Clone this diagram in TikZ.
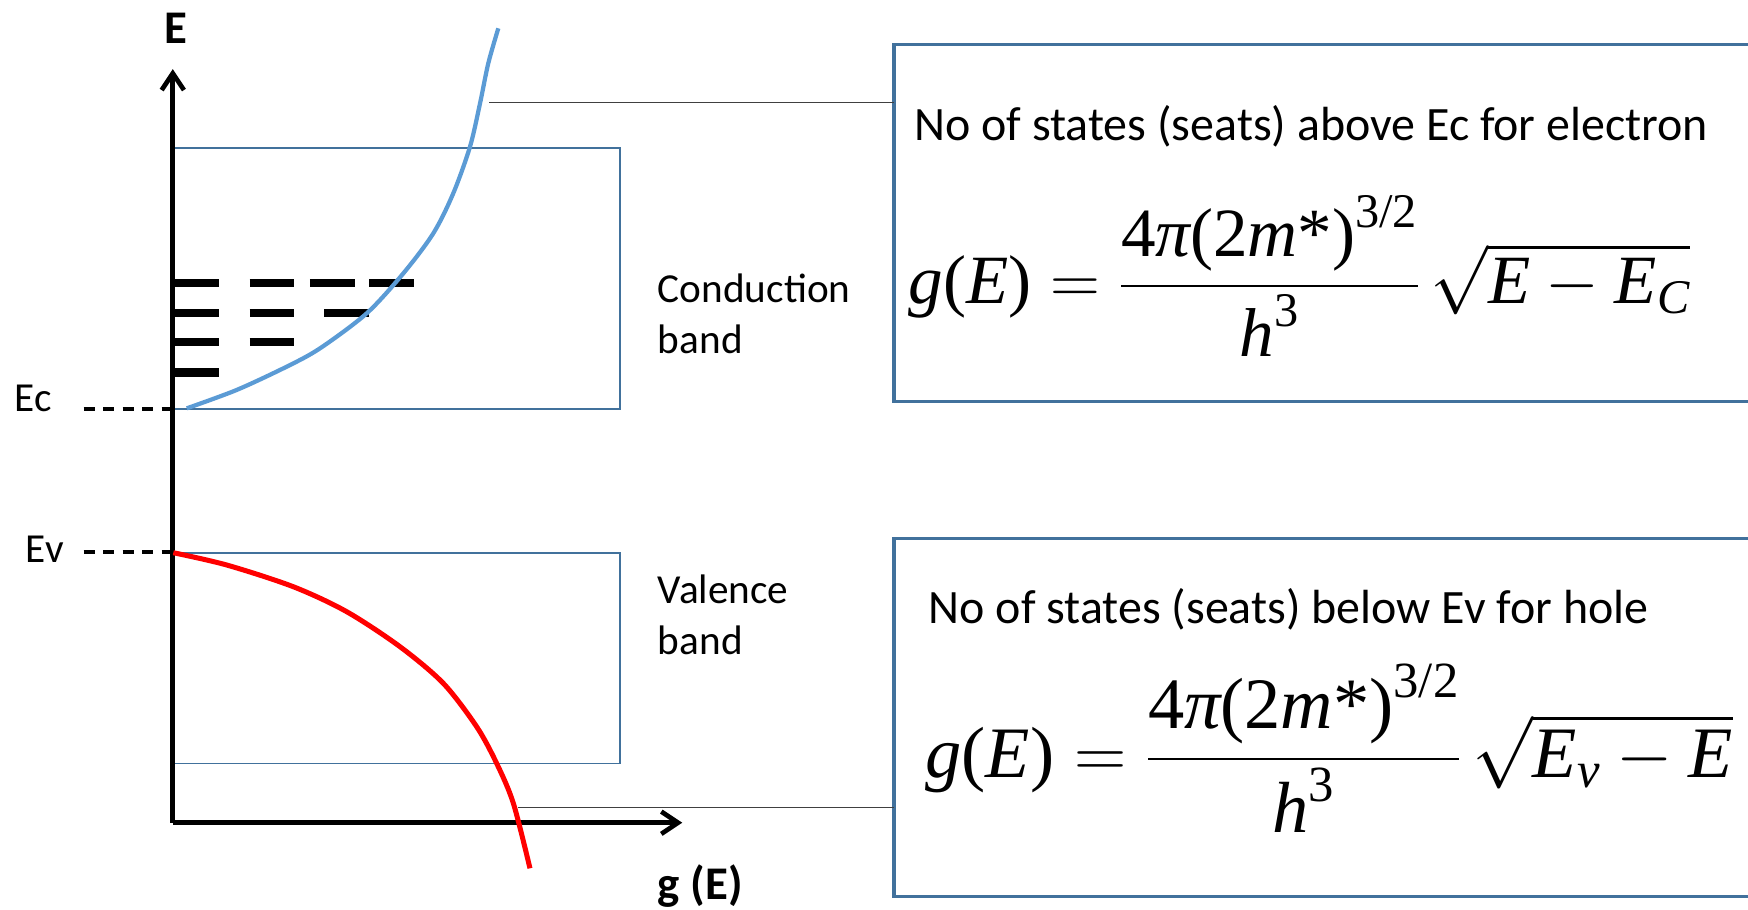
\documentclass[tikz,border=0pt]{standalone}
\usepackage{fix-cm}
\usepackage{amsmath}
\usepackage{fontspec}
\setmainfont{Carlito}
\newfontfamily\tms{Liberation Serif}
\usetikzlibrary{arrows.meta}
\definecolor{bandblue}{HTML}{41719C}
\definecolor{curveblue}{HTML}{5B9BD5}
\definecolor{conngray}{HTML}{404040}
\newcommand{\mi}[1]{\text{\tms\itshape #1}}
\newcommand{\mr}[1]{\text{\tms #1}}
\newcommand{\thickfrac}[2]{\genfrac{}{}{2.3pt}{0}{#1}{#2}}
\tikzset{
  axisline/.style={line width=4.2pt, -{Straight Barb[length=15pt,width=20pt]}},
  bandbox/.style={draw=bandblue, line width=1.6pt, inner sep=0pt, anchor=north west},
  infobox/.style={draw=bandblue, line width=3pt},
  lbl/.style={inner sep=0pt, anchor=base west, font=\fontsize{37}{46}\selectfont},
  boxtxt/.style={inner sep=0pt, anchor=base west, font=\fontsize{43}{50}\selectfont},
  boldlbl/.style={inner sep=0pt, anchor=base west, font=\fontsize{42}{50}\selectfont\bfseries},
  formula/.style={inner sep=0pt, anchor=base west},
  level/.style={line width=7.5pt},
  edge/.style={line width=4pt, dash pattern=on 10pt off 7.5pt},
  conn/.style={draw=conngray, line width=1.1pt},
}
\begin{document}
\begin{tikzpicture}[x=1pt,y=-1pt]
\useasboundingbox (0,0) rectangle (1568,816);
% band boxes
\node[bandbox, minimum width=400pt, minimum height=234pt] (cb) at (155,132) {};
\node[bandbox, minimum width=400pt, minimum height=189pt] (vb) at (155,495) {};
% axes
\coordinate (O) at (155,738);
\coordinate (Ytip) at (155,62);
\coordinate (Xtip) at (612,738);
\draw[axisline] (O) -- (Ytip);
\draw[axisline] (O) -- (Xtip);
\node[boldlbl] (Elbl) at (147,39) {E};
\node[boldlbl] (glbl) at (590,807) {g (E)};
% band labels
\node[lbl] (cbl1) at (590,271) {Conduction};
\node[lbl] (cbl2) at (590,317) {band};
\node[lbl] (vbl1) at (590,541) {Valence};
\node[lbl] (vbl2) at (590,587) {band};
% Ec, Ev
\node[lbl] (Ec) at (13,369) {Ec};
\node[lbl] (Ev) at (23,505) {Ev};
\coordinate (EcL) at (75,367);
\coordinate (EcR) at (155,367);
\coordinate (EvL) at (75,495);
\coordinate (EvR) at (155,495);
\draw[edge] (EcL) -- (EcR);
\draw[edge] (EvL) -- (EvR);
% energy levels
\draw[level] (156,254) -- (196,254) (224,254) -- (264,254) (278,254) -- (318,254) (331,254) -- (371,254);
\draw[level] (156,281) -- (196,281) (224,281) -- (264,281) (291,281) -- (331,281);
\draw[level] (156,307) -- (196,307) (224,307) -- (264,307);
\draw[level] (156,334) -- (196,334);
% curves
\draw[curveblue, line width=3.8pt] plot[smooth, tension=0.5] coordinates {(167.5,366.3) (212.3,349.8) (257.2,328.9) (287,312.5) (328.9,281.1) (361.8,245.2) (388.7,209.3) (406.6,173.4) (421.6,131.6) (430.6,92.7) (438,56.8) (447,25.4)};
\draw[red, line width=4.5pt] plot[smooth, tension=0.5] coordinates {(155.5,495.8) (203.3,506.8) (263.1,526.3) (311,548.7) (358.8,580.1) (397.7,613) (427.6,651.9) (445.5,684.7) (460.5,720.6) (475.4,778.9)};
% info boxes
\draw[infobox] (1580,40) -- (802,40) -- (802,360) -- (1580,360);
\draw[infobox] (1580,483) -- (802,483) -- (802,804) -- (1580,804);
\coordinate (b1w) at (802,92);
\coordinate (b2w) at (802,724);
\coordinate (c1) at (439,92);
\coordinate (c2) at (465,724);
\draw[conn] (c1) -- (b1w);
\draw[conn] (c2) -- (b2w);
% texts
\node[boxtxt] (t1) at (820,126) {No of states (seats) above Ec for electron};
\node[boxtxt] (t2) at (833,559) {No of states (seats) below Ev for hole};
\node[formula, font=\fontsize{62}{70}\selectfont] (f1) at (815,272) {$\displaystyle \mi{g}\mr{(}\mi{E}\mr{)}=\thickfrac{\mr{4}\mi{π}\mr{(2}\mi{m}\mr{*)}^{\mr{3/2}}}{\mi{h}^{\mr{3}}}\,\sqrt{\mi{E}-\mi{E}_{\mi{C}}}$};
\node[formula, font=\fontsize{65}{72}\selectfont] (f2) at (830,697) {$\displaystyle \mi{g}\mr{(}\mi{E}\mr{)}=\thickfrac{\mr{4}\mi{π}\mr{(2}\mi{m}\mr{*)}^{\mr{3/2}}}{\mi{h}^{\mr{3}}}\,\sqrt{\mi{E}_{\mi{v}}-\mi{E}}$};
\end{tikzpicture}
\end{document}
